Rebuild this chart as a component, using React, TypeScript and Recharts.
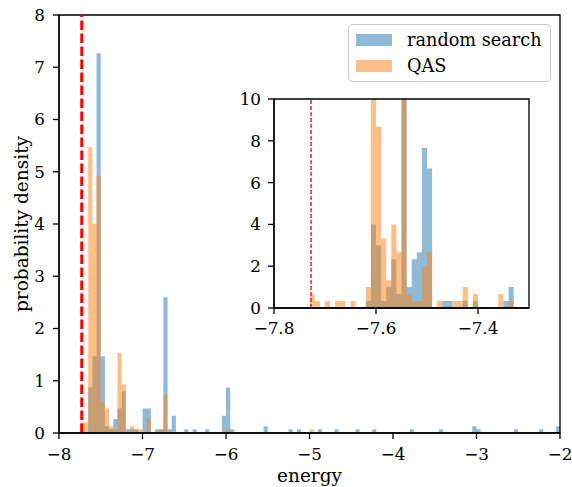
import React from "react"
import {
  ComposedChart,
  Area,
  XAxis,
  YAxis,
  ReferenceLine,
  ReferenceArea,
  CartesianGrid,
  Legend,
} from "recharts"

const FONT = "'DejaVu Serif', serif"
const BLUE = "#1f77b4"
const ORANGE = "#ff7f0e"

// exact ground state energy, drawn as the red dashed line
const groundEnergy = -7.7274

// main histogram, bins of 0.05: [left edge, probability density]
const MAIN_BIN = 0.05
const randomSearchMain: [number, number][] = [
  [-7.65, 0.87], [-7.6, 1.47], [-7.55, 7.27], [-7.5, 1.47], [-7.45, 0.13],
  [-7.4, 0.07], [-7.35, 0.27], [-7.3, 0.47], [-7.25, 0.8], [-7.2, 0.07],
  [-7.15, 0.07], [-7.1, 0.07], [-7.0, 0.47], [-6.95, 0.47], [-6.85, 0.07],
  [-6.8, 0.07], [-6.75, 2.6], [-6.7, 0.07], [-6.65, 0.33], [-6.5, 0.07],
  [-6.4, 0.07], [-6.25, 0.07], [-6.05, 0.33], [-6.0, 0.87], [-5.95, 0.07],
  [-5.55, 0.13], [-5.25, 0.07], [-5.15, 0.07], [-4.9, 0.07], [-4.7, 0.07],
  [-4.45, 0.07], [-4.25, 0.07], [-3.8, 0.07], [-3.45, 0.07], [-3.05, 0.13],
  [-3.0, 0.07], [-2.55, 0.07], [-2.25, 0.07], [-2.05, 0.13],
]
const qasMain: [number, number][] = [
  [-7.75, 0.2], [-7.7, 0.2], [-7.65, 5.47], [-7.6, 4.0], [-7.55, 4.93],
  [-7.5, 0.6], [-7.45, 0.47], [-7.4, 0.13], [-7.35, 0.07], [-7.3, 1.53],
  [-7.25, 0.93], [-7.15, 0.13], [-7.1, 0.07], [-7.05, 0.07], [-6.95, 0.27],
  [-6.8, 0.07], [-6.75, 0.73], [-6.0, 0.07], [-5.0, 0.07],
]

// inset histogram, bins of 0.01
const INSET_BIN = 0.01
const randomSearchInset: [number, number][] = [
  [-7.62, 0.33], [-7.61, 4.0], [-7.6, 3.0], [-7.59, 0.33], [-7.58, 1.0],
  [-7.57, 2.33], [-7.56, 0.67], [-7.55, 22.67], [-7.54, 1.0], [-7.53, 2.33],
  [-7.52, 2.67], [-7.51, 7.67], [-7.5, 6.67], [-7.47, 0.33], [-7.46, 0.33],
  [-7.43, 0.33], [-7.41, 0.33], [-7.35, 0.33], [-7.34, 1.0],
]
const qasInset: [number, number][] = [
  [-7.73, 0.67], [-7.72, 0.33], [-7.7, 0.33], [-7.68, 0.33], [-7.67, 0.33],
  [-7.65, 0.33], [-7.62, 1.0], [-7.61, 26.0], [-7.6, 8.67], [-7.59, 3.33],
  [-7.58, 1.33], [-7.57, 4.0], [-7.56, 2.67], [-7.55, 21.33], [-7.54, 0.67],
  [-7.53, 0.33], [-7.52, 0.33], [-7.51, 2.0], [-7.5, 2.67], [-7.48, 0.33],
  [-7.45, 0.33], [-7.44, 0.33], [-7.43, 1.0], [-7.41, 0.67], [-7.36, 0.67],
  [-7.34, 0.33],
]

const mainXTicks = [-8, -7, -6, -5, -4, -3, -2]
const mainYTicks = [0, 1, 2, 3, 4, 5, 6, 7, 8]
const insetXTicks = [-7.8, -7.6, -7.4]
const insetYTicks = [0, 2, 4, 6, 8, 10]

const legendItems = [
  { label: "random search", color: BLUE },
  { label: "QAS", color: ORANGE },
]

// rows on every bin edge so a stepAfter area draws the bars
function histRows(lo: number, hi: number, width: number, rs: [number, number][], qas: [number, number][]) {
  const key = (v: number) => Math.round(v / width)
  const rsMap = new Map(rs.map(([e, d]) => [key(e), d]))
  const qasMap = new Map(qas.map(([e, d]) => [key(e), d]))
  const n = Math.round((hi - lo) / width)
  const rows = []
  for (let i = 0; i <= n; i++) {
    const x = lo + i * width
    rows.push({ x, rs: rsMap.get(key(x)) ?? 0, qas: qasMap.get(key(x)) ?? 0 })
  }
  return rows
}

const mainRows = histRows(-7.75, -2.0, MAIN_BIN, randomSearchMain, qasMain)
const insetRows = histRows(-7.73, -7.33, INSET_BIN, randomSearchInset, qasInset)

const tickStyle = { fill: "#000", fontFamily: FONT, fontSize: 16.8 }
const minus = (v: number) => (v < 0 ? "\u2212" + Math.abs(v) : String(v))
const minus1 = (v: number) => (v < 0 ? "\u2212" + Math.abs(v).toFixed(1) : v.toFixed(1))

function YLabel({ viewBox }: any) {
  const cx = viewBox.x + 27.5
  const cy = viewBox.y + viewBox.height / 2
  return (
    <text
      x={cx}
      y={cy}
      transform={`rotate(-90 ${cx} ${cy})`}
      textAnchor="middle"
      fill="#000"
      fontFamily={FONT}
      fontSize={18.5}
    >
      probability density
    </text>
  )
}

function LegendBox() {
  return (
    <div
      style={{
        boxSizing: "border-box",
        width: 203,
        height: 58,
        border: "1px solid #cccccc",
        borderRadius: 4,
        background: "rgba(255,255,255,0.8)",
        padding: "2px 0 0 7px",
        fontFamily: FONT,
        fontSize: 17.7,
        color: "#000",
        textAlign: "left",
      }}
    >
      {legendItems.map((it) => (
        <div key={it.label} style={{ display: "flex", alignItems: "center", height: 26 }}>
          <span style={{ display: "inline-block", width: 36, height: 12, background: it.color, opacity: 0.5, marginRight: 15 }} />
          <span>{it.label}</span>
        </div>
      ))}
    </div>
  )
}

export default function App() {
  return (
    <div style={{ position: "absolute", left: 0, top: 0, width: 572, height: 487, background: "#fff" }}>
      <ComposedChart width={572} height={487} data={mainRows} margin={{ top: 15, right: 12, bottom: 0, left: 0 }}>
        <XAxis
          type="number"
          dataKey="x"
          domain={[-8, -2]}
          ticks={mainXTicks}
          interval={0}
          allowDataOverflow
          height={54}
          tickSize={6}
          tickMargin={9.5}
          tick={tickStyle}
          tickFormatter={minus}
          stroke="#000"
          strokeWidth={1.3}
          label={{ value: "energy", position: "insideBottom", offset: 5, fill: "#000", fontFamily: FONT, fontSize: 18.5 }}
        />
        <YAxis
          type="number"
          domain={[0, 8]}
          ticks={mainYTicks}
          interval={0}
          allowDataOverflow
          width={59}
          tickSize={6}
          tickMargin={8}
          tick={tickStyle}
          stroke="#000"
          strokeWidth={1.3}
          label={<YLabel />}
        />
        <Area type="stepAfter" dataKey="rs" name="random search" fill={BLUE} fillOpacity={0.5} stroke="none" dot={false} activeDot={false} isAnimationActive={false} />
        <Area type="stepAfter" dataKey="qas" name="QAS" fill={ORANGE} fillOpacity={0.5} stroke="none" dot={false} activeDot={false} isAnimationActive={false} />
        <ReferenceLine x={groundEnergy} stroke="#ff0000" strokeWidth={3} strokeDasharray="9.5 3.5" />
        <ReferenceArea x1={-8} x2={-2} y1={0} y2={8} fill="none" stroke="#000" strokeWidth={1.3} />
        <Legend
          layout="horizontal"
          verticalAlign="middle"
          align="center"
          wrapperStyle={{ left: 348, top: 24, width: 203, height: 58 }}
          content={() => <LegendBox />}
        />
      </ComposedChart>

      <div style={{ position: "absolute", left: 234, top: 89 }}>
        <ComposedChart width={305} height={259} data={insetRows} margin={{ top: 10, right: 10, bottom: 0, left: 0 }}>
          <CartesianGrid fill="#fff" horizontal={false} vertical={false} />
          <XAxis
            type="number"
            dataKey="x"
            domain={[-7.8, -7.3]}
            ticks={insetXTicks}
            interval={0}
            allowDataOverflow
            height={40}
            tickSize={6}
            tickMargin={8}
            tick={tickStyle}
            tickFormatter={minus1}
            stroke="#000"
            strokeWidth={1.3}
          />
          <YAxis
            type="number"
            domain={[0, 10]}
            ticks={insetYTicks}
            interval={0}
            allowDataOverflow
            width={40}
            tickSize={6}
            tickMargin={7}
            tick={tickStyle}
            stroke="#000"
            strokeWidth={1.3}
          />
          <Area type="stepAfter" dataKey="rs" fill={BLUE} fillOpacity={0.5} stroke="none" dot={false} activeDot={false} isAnimationActive={false} />
          <Area type="stepAfter" dataKey="qas" fill={ORANGE} fillOpacity={0.5} stroke="none" dot={false} activeDot={false} isAnimationActive={false} />
          <ReferenceLine x={groundEnergy} stroke="#ff0000" strokeWidth={1.3} strokeDasharray="4 2" />
          <ReferenceArea x1={-7.8} x2={-7.3} y1={0} y2={10} fill="none" stroke="#000" strokeWidth={1.3} />
        </ComposedChart>
      </div>
    </div>
  )
}
